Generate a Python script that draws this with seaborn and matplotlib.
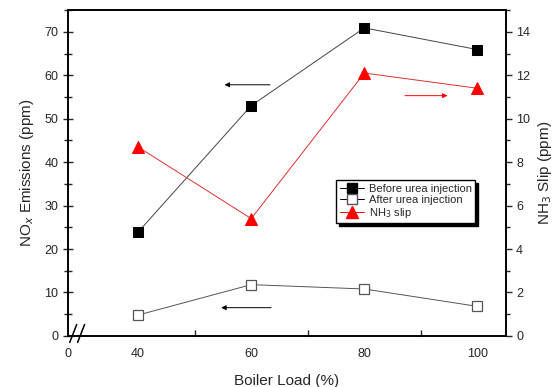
import matplotlib
matplotlib.use('Agg')
import matplotlib.pyplot as plt
from matplotlib.lines import Line2D
import pandas as pd
import seaborn as sns

sns.set_style('ticks')
plt.rcParams['font.family'] = ['Liberation Sans', 'DejaVu Sans']

# boiler load (%)
load = [40, 60, 80, 100]
# NOx emissions (ppm)
nox_before = [23.9, 53.0, 70.9, 65.9]
nox_after = [4.8, 11.8, 10.8, 6.8]
# NH3 slip (ppm)
nh3_slip = [8.7, 5.4, 12.1, 11.4]

x_ticks = [27.6, 40, 60, 80, 100]
x_tick_labels = ['0', '40', '60', '80', '100']

df = pd.DataFrame({'load': load, 'before': nox_before,
                   'after': nox_after, 'nh3': nh3_slip})

fig = plt.figure(figsize=(5.57, 3.87), dpi=100)
ax = fig.add_axes([0.122, 0.132, 0.786, 0.842])
ax2 = ax.twinx()

sns.lineplot(data=df, x='load', y='before', ax=ax, color='#444444', lw=0.7,
             marker='s', markersize=7.5, markerfacecolor='black',
             markeredgecolor='black')
sns.lineplot(data=df, x='load', y='after', ax=ax, color='#555555', lw=0.7,
             marker='s', markersize=7.5, markerfacecolor='white',
             markeredgecolor='#555555', markeredgewidth=0.9)
sns.lineplot(data=df, x='load', y='nh3', ax=ax2, color='#e03030', lw=0.7,
             marker='^', markersize=9, markerfacecolor='red',
             markeredgecolor='red')

ax.set_xlim(27.6, 105)
ax.set_ylim(0, 75)
ax2.set_ylim(0, 15)

ax.set_xticks(x_ticks)
ax.set_xticklabels(x_tick_labels)
ax.set_xticks([50, 70, 90], minor=True)
ax.tick_params(axis='x', which='major', length=0, labelsize=9, pad=9)
ax.tick_params(axis='x', which='minor', direction='in', length=4, width=1)
ax.set_yticks(range(0, 71, 10))
ax.set_yticks(range(5, 76, 10), minor=True)
ax.tick_params(axis='y', which='major', direction='inout', length=7, width=1,
               labelsize=9)
ax.tick_params(axis='y', which='minor', direction='inout', length=6, width=1)
ax2.set_yticks(range(0, 15, 2))
ax2.set_yticks(range(1, 16, 2), minor=True)
ax2.tick_params(axis='y', which='major', direction='out', length=4, width=1,
                labelsize=9)
ax2.tick_params(axis='y', which='minor', direction='out', length=3, width=1)

for a in (ax, ax2):
    for s in a.spines.values():
        s.set_linewidth(1.2)
        s.set_color('black')

ax.set_xlabel('Boiler Load (%)', fontsize=11, labelpad=10)
ax.set_ylabel('NO$_x$ Emissions (ppm)', fontsize=11, labelpad=6)
ax2.set_ylabel('NH$_3$ Slip (ppm)', fontsize=11, labelpad=4)

# direction arrows
arr = dict(arrowstyle='-|>', lw=0.7, mutation_scale=7)
ax.annotate('', xy=(54.8, 57.8), xytext=(63.8, 57.8),
            arrowprops=dict(arr, color='black'))
ax.annotate('', xy=(54.2, 6.5), xytext=(64.0, 6.5),
            arrowprops=dict(arr, color='black'))
ax.annotate('', xy=(95.2, 55.3), xytext=(86.7, 55.3),
            arrowprops=dict(arr, color='red'))

# axis break marks
for dx in (0.012, 0.03):
    ax.plot([dx - 0.008, dx + 0.008], [-0.02, 0.035], transform=ax.transAxes,
            color='black', lw=1.1, clip_on=False)

handles = [
    Line2D([], [], color='black', lw=0.7, marker='s', markersize=7,
           markerfacecolor='black'),
    Line2D([], [], color='black', lw=0.7, marker='s', markersize=7,
           markerfacecolor='white', markeredgecolor='#555555'),
    Line2D([], [], color='red', lw=0.7, marker='^', markersize=9,
           markerfacecolor='red'),
]
labels = ['Before urea injection', 'After urea injection', 'NH$_3$ slip']
ax2.legend(handles, labels, loc='upper left', bbox_to_anchor=(0.594, 0.548),
           bbox_transform=fig.transFigure, fontsize=8, frameon=True,
           fancybox=False, edgecolor='black', framealpha=1,
           shadow={'color': 'black', 'alpha': 1}, handlelength=2.2,
           handletextpad=0.4, borderpad=0.3, labelspacing=0.1)

plt.savefig('out.png', dpi=100)
